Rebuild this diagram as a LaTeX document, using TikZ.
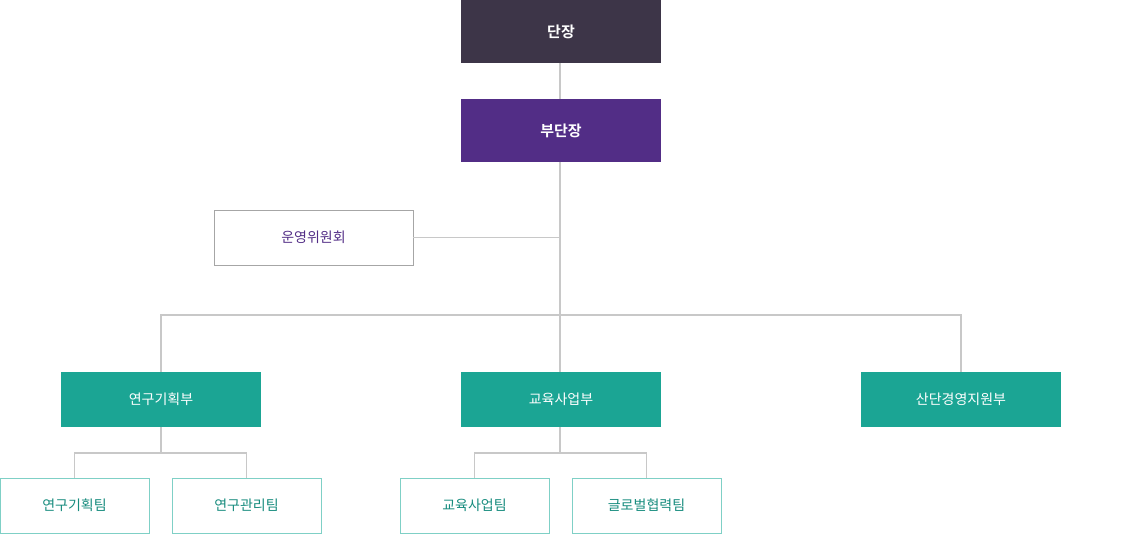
\documentclass[tikz,border=0pt]{standalone}
\usepackage{fontspec}
\setmainfont{Noto Sans CJK KR}[BoldFont={Noto Sans CJK KR Bold}]
\definecolor{chief}{HTML}{3D3548}
\definecolor{vice}{HTML}{522D86}
\definecolor{teal}{HTML}{1BA594}
\definecolor{tealline}{HTML}{7FD0C6}
\definecolor{link}{HTML}{C8C8C8}
\tikzset{
  head/.style={minimum width=200pt,minimum height=63pt,inner sep=0pt,text=white,font=\bfseries\fontsize{15}{18}\selectfont},
  dept/.style={fill=teal,minimum width=200pt,minimum height=55pt,inner sep=0pt,text=white,font=\fontsize{14}{17}\selectfont},
  team/.style={draw=tealline,fill=white,minimum width=149pt,minimum height=55pt,inner sep=0pt,text=teal!85!black,font=\fontsize{14}{17}\selectfont},
  wire/.style={draw=link,line width=1.5pt}
}
\begin{document}
\begin{tikzpicture}[x=1pt,y=-1pt]
  \useasboundingbox (0,0) rectangle (1122,534);
  % top
  \node[head,fill=chief] (chief) at (561,31.5) {단장};
  \node[head,fill=vice] (vice) at (561,130.5) {부단장};
  \node[draw=gray!70,minimum width=199pt,minimum height=55pt,inner sep=0pt,text=vice,font=\fontsize{14}{17}\selectfont] (board) at (313.5,237.5) {운영위원회};
  % departments
  \node[dept] (plan) at (161,399.5) {연구기획부};
  \node[dept] (edu) at (561,399.5) {교육사업부};
  \node[dept] (mgmt) at (961,399.5) {산단경영지원부};
  % teams
  \node[team] (pteam) at (74.5,505.5) {연구기획팀};
  \node[team] (rteam) at (246.5,505.5) {연구관리팀};
  \node[team] (eteam) at (474.5,505.5) {교육사업팀};
  \node[team] (gteam) at (646.5,505.5) {글로벌협력팀};
  % connectors
  \coordinate (bus) at (560,315);
  \begin{scope}[on background layer/.style={}]
  \draw[wire] (chief.south -| bus) -- (vice.north -| bus);
  \draw[wire] (vice.south -| bus) -- (edu.north -| bus);
  \draw[wire] (board.east) -- (board.east -| bus);
  \draw[wire] (plan.north) |- (bus) -| (mgmt.north);
  \draw[wire] (plan.south) -- ++(0,26) coordinate (pj);
  \draw[wire] (pteam.north) |- (pj) -| (rteam.north);
  \draw[wire] (edu.south -| bus) -- ++(0,26) coordinate (ej);
  \draw[wire] (eteam.north) |- (ej) -| (gteam.north);
  \end{scope}
\end{tikzpicture}
\end{document}
